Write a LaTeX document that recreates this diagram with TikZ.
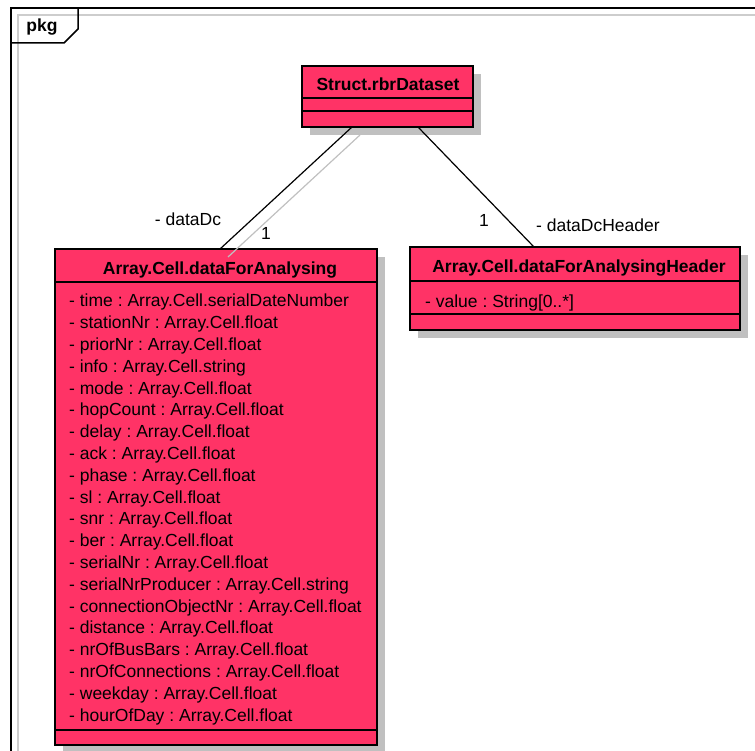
\documentclass[tikz,border=0pt]{standalone}
\usepackage{fontspec}
\setmainfont{Liberation Sans}
\usetikzlibrary{shadows}
\definecolor{classred}{RGB}{255,51,102}
\definecolor{shadowgray}{RGB}{192,192,192}
\frenchspacing
\begin{document}
\begin{tikzpicture}[x=1pt,y=-1pt,
    classbox/.style={draw, line width=2.5pt, fill=classred, outer sep=0pt, inner sep=0pt, anchor=north west,
      drop shadow={shadow xshift=8pt, shadow yshift=-8pt, fill=shadowgray, opacity=1}},
    title/.style={font=\fontsize{17.5}{20}\selectfont\bfseries, inner sep=0pt},
    attr/.style={font=\fontsize{17.5}{20}\selectfont, anchor=west, inner sep=0pt},
    sep/.style={line width=1.2pt}]
  \useasboundingbox (0,0) rectangle (755,751);
  % package frame
  \draw[shadowgray!80, line width=2pt] (18,751) -- (18,15) -- (755,15);
  \draw[line width=1.5pt] (11,751) -- (11,8) -- (755,8);
  \draw[line width=1.5pt] (78,8) -- (78,29) -- (64,43) -- (11,43);
  \node[title] (pkg) at (42,27) {pkg};

  \node[classbox, minimum width=171pt, minimum height=61pt] (rbr) at (302,66) {};
  \node[title] (rbrT) at (388,84) {Struct.rbrDataset};
  \draw[sep] (302,98) -- (473,98) (302,111) -- (473,111);

  \node[classbox, minimum width=322pt, minimum height=496pt] (afa) at (55,249) {};
  \node[title] (afaT) at (220,270) {Array.Cell.dataForAnalysing};
  \draw[sep] (55,282) -- (377,282) (55,730) -- (377,730);
  \foreach \a [count=\i] in {time : Array.Cell.serialDateNumber, stationNr : Array.Cell.float,
      priorNr : Array.Cell.float, info : Array.Cell.string, mode : Array.Cell.float,
      hopCount : Array.Cell.float, delay : Array.Cell.float, ack : Array.Cell.float,
      phase : Array.Cell.float, sl : Array.Cell.float, snr : Array.Cell.float,
      ber : Array.Cell.float, serialNr : Array.Cell.float, serialNrProducer : Array.Cell.string,
      connectionObjectNr : Array.Cell.float, distance : Array.Cell.float,
      nrOfBusBars : Array.Cell.float, nrOfConnections : Array.Cell.float,
      weekday : Array.Cell.float, hourOfDay : Array.Cell.float}
    \node[attr] (attr\i) at (69,280.5+21.8*\i) {- \a};

  \node[classbox, minimum width=330pt, minimum height=83pt] (afah) at (410,247) {};
  \node[title] (afahT) at (579,268) {Array.Cell.dataForAnalysingHeader};
  \draw[sep] (410,281) -- (740,281) (410,314) -- (740,314);
  \node[attr] (val) at (425,303) {- value : String[0..*]};

  % associations
  \draw[shadowgray, line width=1.2pt] ([xshift=58pt,yshift=-8pt]rbr.south west) -- ([xshift=173pt,yshift=-8pt]afa.north west);
  \draw[line width=1.2pt] ([xshift=50pt]rbr.south west) -- ([xshift=165pt]afa.north west);
  \draw[line width=1.2pt] ([xshift=116pt]rbr.south west) -- ([xshift=124pt]afah.north west);
  \node[attr, anchor=center] (roleDc) at (188,219) {- dataDc};
  \node[attr, anchor=center] (multDc) at (266,233) {1};
  \node[attr, anchor=center] (multHdr) at (484,220) {1};
  \node[attr, anchor=center] (roleHdr) at (598,225) {- dataDcHeader};
\end{tikzpicture}
\end{document}
